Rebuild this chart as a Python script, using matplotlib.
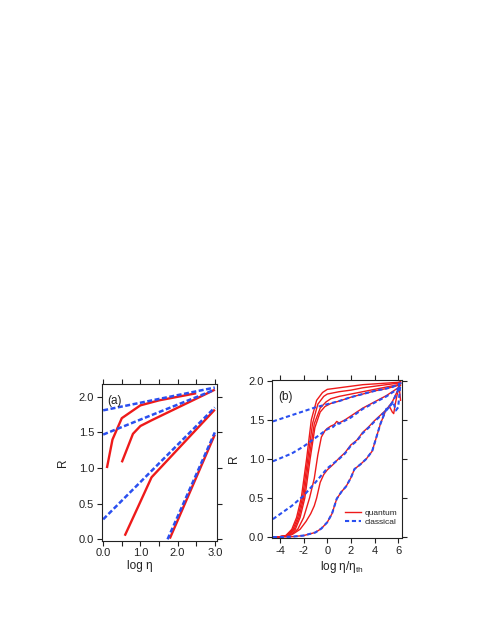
import matplotlib
matplotlib.use("Agg")
import matplotlib.pyplot as plt
from matplotlib.ticker import FixedLocator

plt.rcParams['font.family'] = ['Liberation Sans', 'DejaVu Sans']

RED = '#ee1a1a'
BLUE = '#2a4ff0'

# ---------------- panel (a) data ----------------
a_q1_x = [0.10, 0.25, 0.50, 1.00, 1.50, 2.50]
a_q1_y = [1.00, 1.40, 1.70, 1.88, 1.95, 2.05]
a_q2_x = [0.50, 0.80, 1.00, 1.30, 3.00]
a_q2_y = [1.08, 1.48, 1.59, 1.67, 2.10]
a_q3_x = [0.58, 0.95, 1.30, 3.00]
a_q3_y = [0.05, 0.47, 0.87, 1.82]
a_q4_x = [1.79, 3.00]
a_q4_y = [0.01, 1.47]

a_c1_x = [0.00, 3.00]
a_c1_y = [1.81, 2.13]
a_c2_x = [0.00, 3.00]
a_c2_y = [1.47, 2.10]
a_c3_x = [0.00, 3.00]
a_c3_y = [0.28, 1.85]
a_c4_x = [1.73, 3.00]
a_c4_y = [0.00, 1.50]

# ---------------- panel (b) data ----------------
b_c1_x = [-4.6, -3.0, -2.0, -1.0, 0.0, 1.0, 2.0, 3.0, 4.0, 5.0, 5.5, 5.8, 6.1]
b_c1_y = [1.48, 1.56, 1.61, 1.66, 1.70, 1.74, 1.79, 1.83, 1.87, 1.90, 1.92, 1.94, 1.96]
b_c2_x = [-4.6, -3.0, -2.0, -1.0, 0.0, 0.5, 0.8, 1.0, 2.0, 3.0, 4.0, 5.0, 6.0, 6.1]
b_c2_y = [0.97, 1.07, 1.16, 1.27, 1.38, 1.41, 1.46, 1.45, 1.53, 1.64, 1.72, 1.80, 1.90, 1.93]
b_c3_x = [-4.6, -3.0, -2.0, -1.0, 0.0, 1.0, 1.5, 2.0, 2.5, 3.0, 3.5, 4.0, 4.5, 5.0, 5.5, 6.0, 6.1]
b_c3_y = [0.23, 0.40, 0.53, 0.70, 0.88, 1.00, 1.07, 1.17, 1.23, 1.33, 1.40, 1.48, 1.55, 1.62, 1.72, 1.88, 1.97]
b_c4_x = [-4.6, -3.0, -2.0, -1.0, -0.5, 0.0, 0.4, 0.8, 1.2, 1.6, 2.0, 2.3, 2.8, 3.3, 3.8, 4.1,
          4.5, 5.0, 5.3, 5.6, 5.8, 6.0, 6.2]
b_c4_y = [0.00, 0.005, 0.02, 0.06, 0.11, 0.19, 0.30, 0.49, 0.58, 0.65, 0.76, 0.87, 0.93, 1.00, 1.10, 1.25,
          1.45, 1.64, 1.68, 1.72, 1.62, 1.66, 1.98]

b_q1_x = [-4.5, -4.0, -3.5, -3.0, -2.6, -2.2, -1.75, -1.35, -0.9, -0.4, 0.0, 1.0, 2.0, 3.0, 4.0, 5.0, 6.0, 6.2]
b_q1_y = [0.00, 0.005, 0.02, 0.10, 0.25, 0.50, 1.00, 1.50, 1.75, 1.85, 1.89, 1.91, 1.93, 1.95, 1.96, 1.97, 1.98, 1.99]
b_q2_x = [-4.5, -4.0, -3.5, -2.9, -2.5, -2.1, -1.65, -1.25, -0.8, -0.3, 0.0, 1.0, 2.0, 3.0, 4.0, 5.0, 6.0, 6.2]
b_q2_y = [0.00, 0.005, 0.02, 0.10, 0.25, 0.50, 1.00, 1.45, 1.70, 1.80, 1.83, 1.86, 1.88, 1.91, 1.93, 1.95, 1.97, 1.98]
b_q3_x = [-4.5, -4.0, -3.4, -2.8, -2.4, -2.0, -1.55, -1.1, -0.6, -0.1, 0.3, 1.0, 2.0, 3.0, 4.0, 5.0, 6.0, 6.2]
b_q3_y = [0.00, 0.005, 0.02, 0.10, 0.25, 0.50, 1.00, 1.45, 1.65, 1.73, 1.77, 1.80, 1.83, 1.86, 1.89, 1.92, 1.95, 1.97]
b_q4_x = [-4.5, -4.0, -3.3, -2.7, -2.3, -1.9, -1.45, -1.05, -0.6, -0.2, 0.3, 1.0, 2.0, 3.0, 4.0, 5.0, 6.0, 6.2]
b_q4_y = [0.00, 0.005, 0.02, 0.10, 0.25, 0.50, 1.00, 1.40, 1.60, 1.67, 1.71, 1.74, 1.79, 1.83, 1.87, 1.90, 1.94, 1.96]
b_q5_x = [-4.5, -4.0, -3.2, -2.5, -2.0, -1.5, -1.1, -0.8, -0.5, -0.2, 0.0, 0.3, 0.6, 0.8, 1.0,
          1.5, 2.0, 3.0, 4.0, 5.0, 6.0, 6.2]
b_q5_y = [0.00, 0.005, 0.02, 0.10, 0.25, 0.50, 0.75, 1.05, 1.28, 1.36, 1.39, 1.42, 1.44, 1.48, 1.46,
          1.50, 1.55, 1.65, 1.73, 1.81, 1.91, 1.94]
b_q6_x = [-4.5, -4.0, -3.0, -2.3, -1.8, -1.4, -1.1, -0.9, -0.6, -0.3, 0.0, 0.5, 1.0, 1.5, 2.0, 2.5,
          3.0, 3.5, 4.0, 4.5, 5.0, 5.5, 6.0, 6.1]
b_q6_y = [0.00, 0.005, 0.03, 0.10, 0.20, 0.30, 0.40, 0.50, 0.70, 0.80, 0.86, 0.93, 1.01, 1.08, 1.18, 1.24,
          1.34, 1.41, 1.49, 1.56, 1.63, 1.73, 1.89, 1.97]
b_q7_x = [-4.6, -3.0, -2.0, -1.0, -0.5, 0.0, 0.4, 0.8, 1.2, 1.6, 2.0, 2.3, 2.8, 3.3, 3.8, 4.1,
          4.5, 5.0, 5.3, 5.5, 5.62, 5.75, 5.95, 6.1, 6.2]
b_q7_y = [0.00, 0.005, 0.02, 0.06, 0.11, 0.19, 0.30, 0.49, 0.58, 0.65, 0.76, 0.87, 0.93, 1.00, 1.10, 1.25,
          1.45, 1.64, 1.66, 1.60, 1.58, 1.70, 1.85, 1.90, 1.75]

a_xticks = [0.0, 0.5, 1.0, 1.5, 2.0, 2.5, 3.0]
a_xtick_labels = ['0.0', '', '1.0', '', '2.0', '', '3.0']
a_yticks = [0.0, 0.5, 1.0, 1.5, 2.0]
b_xticks = [-4, -2, 0, 2, 4, 6]
b_yticks = [0.0, 0.5, 1.0, 1.5, 2.0]

fig = plt.figure(figsize=(4.91, 6.35), dpi=100)

FS = 8
TXT = '#222222'


def style_axes(ax):
    for s in ax.spines.values():
        s.set_linewidth(0.8)
        s.set_color(TXT)
    ax.tick_params(direction='out', length=3.5, width=0.8, top=True, right=True,
                   labeltop=False, labelright=False, labelsize=FS, colors=TXT, pad=2)


# ---- panel (a)
axa = fig.add_axes([0.2071, 0.1485, 0.2342, 0.2468])
lw_r, lw_b = 1.7, 1.8
for xs, ys in [(a_q1_x, a_q1_y), (a_q2_x, a_q2_y), (a_q3_x, a_q3_y), (a_q4_x, a_q4_y)]:
    axa.plot(xs, ys, color=RED, lw=lw_r, solid_capstyle='butt')
for xs, ys in [(a_c1_x, a_c1_y), (a_c2_x, a_c2_y), (a_c3_x, a_c3_y), (a_c4_x, a_c4_y)]:
    axa.plot(xs, ys, color=BLUE, lw=lw_b, linestyle=(0, (2.0, 1.0)))
axa.set_xlim(-0.04, 3.05)
axa.set_ylim(-0.02, 2.18)
axa.xaxis.set_major_locator(FixedLocator(a_xticks))
axa.set_xticklabels(a_xtick_labels)
axa.set_yticks(a_yticks)
axa.set_yticklabels(['%.1f' % v for v in a_yticks])
style_axes(axa)
axa.set_xlabel('log η', fontsize=8.5, labelpad=0, color=TXT)
axa.xaxis.set_label_coords(0.33, -0.125)
axa.set_ylabel('R', fontsize=8.5, color=TXT)
axa.yaxis.set_label_coords(-0.28, 0.5)
axa.text(0.05, 0.93, '(a)', transform=axa.transAxes, fontsize=8.5, va='top', ha='left', color=TXT)

# ---- panel (b)
axb = fig.add_axes([0.5534, 0.1523, 0.2648, 0.2493])
lwq, lwc = 1.0, 1.5
qs = [(b_q1_x, b_q1_y), (b_q2_x, b_q2_y), (b_q3_x, b_q3_y), (b_q4_x, b_q4_y),
      (b_q5_x, b_q5_y), (b_q6_x, b_q6_y), (b_q7_x, b_q7_y)]
for i, (xs, ys) in enumerate(qs):
    axb.plot(xs, ys, color=RED, lw=lwq, label='quantum' if i == 0 else None)
cs = [(b_c1_x, b_c1_y), (b_c2_x, b_c2_y), (b_c3_x, b_c3_y), (b_c4_x, b_c4_y)]
for i, (xs, ys) in enumerate(cs):
    axb.plot(xs, ys, color=BLUE, lw=lwc, linestyle=(0, (2.0, 1.3)),
             label='classical' if i == 0 else None)
axb.set_xlim(-4.7, 6.3)
axb.set_ylim(-0.015, 2.01)
axb.set_xticks(b_xticks)
axb.set_xticklabels([str(v) for v in b_xticks])
axb.set_yticks(b_yticks)
axb.set_yticklabels(['%.1f' % v for v in b_yticks])
style_axes(axb)
axb.set_xlabel('log η/η$_{\\mathregular{th}}$', fontsize=8.5, labelpad=0, color=TXT)
axb.xaxis.set_label_coords(0.54, -0.13)
axb.set_ylabel('R', fontsize=8.5, color=TXT)
axb.yaxis.set_label_coords(-0.245, 0.5)
axb.text(0.05, 0.93, '(b)', transform=axb.transAxes, fontsize=8.5, va='top', ha='left', color=TXT)
leg = axb.legend(loc='lower right', bbox_to_anchor=(1.0, 0.05), fontsize=6, frameon=False,
                 handlelength=2.0, handletextpad=0.4, labelspacing=0.15, borderaxespad=0.1)
for t in leg.get_texts():
    t.set_color(TXT)

fig.savefig('out.png', dpi=100)
